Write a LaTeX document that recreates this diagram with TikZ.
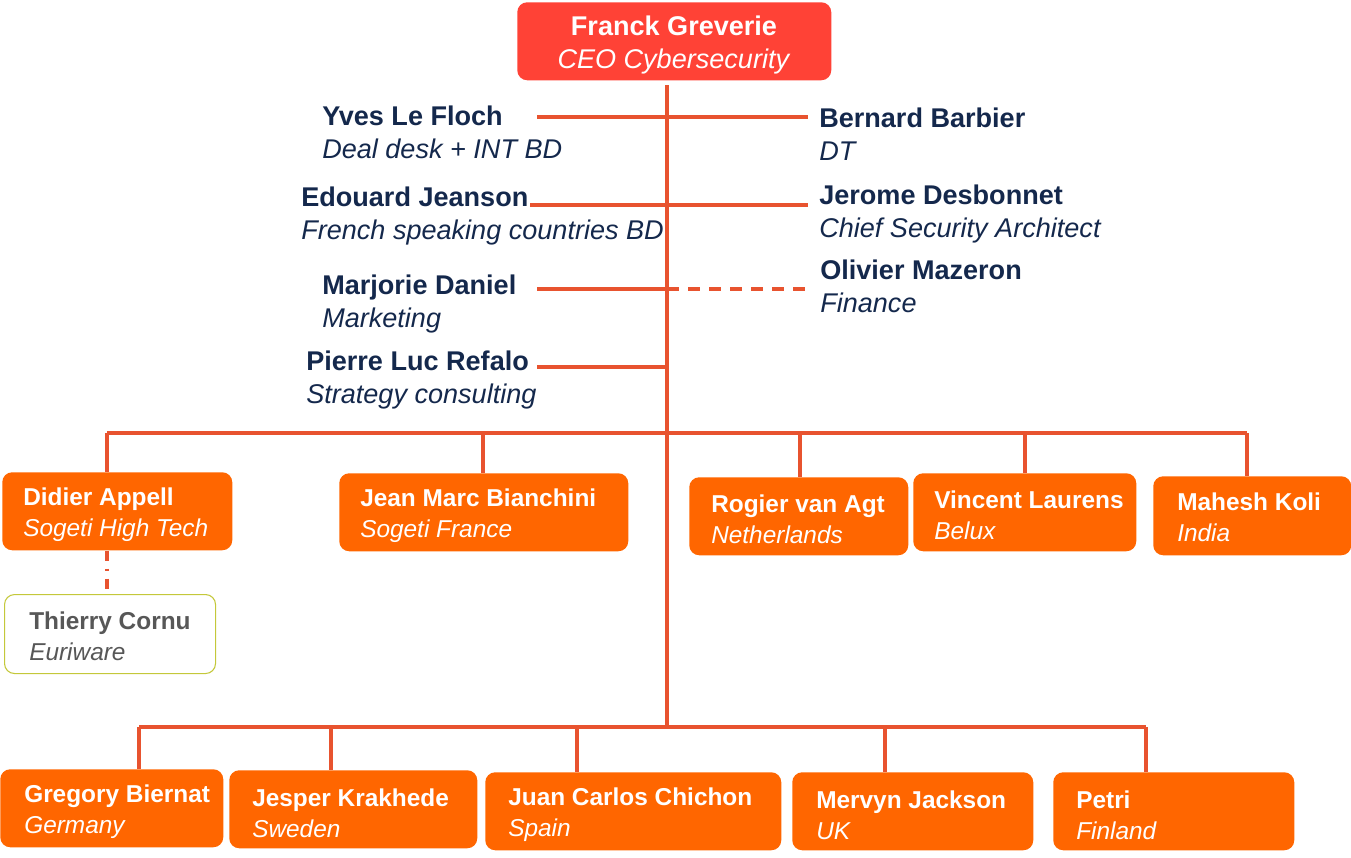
\documentclass[tikz,border=0pt]{standalone}
\usepackage{fontspec}
\setmainfont{Liberation Sans}
\definecolor{ceored}{HTML}{FF4236}
\definecolor{boxorange}{HTML}{FF6600}
\definecolor{linkred}{HTML}{E8532F}
\definecolor{navy}{HTML}{14284C}
\definecolor{thgray}{HTML}{575757}
\definecolor{thborder}{HTML}{C4C83A}
\begin{document}
\begin{tikzpicture}[x=0.75pt,y=-0.75pt,
  link/.style={draw=linkred,line width=2.3pt},
  dlink/.style={link,dash pattern=on 9pt off 6.75pt},
  obox/.style 2 args={fill=boxorange,draw=none,rounded corners=7.5pt,anchor=north west,inner sep=0pt,minimum width=#1*0.75pt,minimum height=#2*0.75pt},
  wbox/.style 2 args={fill=white,draw=thborder,line width=0.8pt,rounded corners=7.5pt,anchor=north west,inner sep=0pt,minimum width=#1*0.75pt,minimum height=#2*0.75pt},
  otext/.style={anchor=west,inner sep=0pt,align=left,text=white,font=\fontsize{18.3}{23}\selectfont},
  stext/.style={anchor=west,inner sep=0pt,align=left,text=navy,font=\fontsize{20.3}{24.75}\selectfont}]
\useasboundingbox (0,0) rectangle (1351,857);

% CEO
\node[fill=ceored,rounded corners=7.5pt,anchor=north west,inner sep=0pt,minimum width=314*0.75pt,minimum height=78*0.75pt] (ceo) at (517,2) {};
\node[inner sep=0pt,align=center,text=white,font=\fontsize{20.3}{24.75}\selectfont] (ceot) at (674,45) {\textbf{Franck Greverie}\\\textit{CEO Cybersecurity}};

% trunk and staff lines
\coordinate (trtop) at (667,85);
\coordinate (trbot) at (667,722);
\draw[link] (trtop) -- (trbot);
\coordinate (yl) at (537,117); \coordinate (yr) at (808,117);
\coordinate (el) at (530,205); \coordinate (er) at (808,205);
\coordinate (ml) at (537,289); \coordinate (mm) at (667,289); \coordinate (mr) at (808,289);
\coordinate (pl) at (537,367); \coordinate (pm) at (667,367);
\draw[link] (yl) -- (yr);
\draw[link] (el) -- (er);
\draw[link] (ml) -- (mm);
\draw[dlink] (mm) -- (mr);
\draw[link] (pl) -- (pm);

% staff texts
\node[stext] (yves) at (322,132) {\textbf{Yves Le Floch}\\\textit{Deal desk + INT BD}};
\node[stext] (bernard) at (819,134) {\textbf{Bernard Barbier}\\\textit{DT}};
\node[stext] (edouard) at (301,216) {\textbf{Edouard Jeanson}\\\textit{French speaking countries BD}};
\node[stext] (jerome) at (819,214) {\textbf{Jerome Desbonnet}\\\textit{Chief Security Architect}};
\node[stext] (marjorie) at (322,304) {\textbf{Marjorie Daniel}\\\textit{Marketing}};
\node[stext] (olivier) at (820,286) {\textbf{Olivier Mazeron}\\\textit{Finance}};
\node[stext] (pierre) at (306,380) {\textbf{Pierre Luc Refalo}\\\textit{Strategy consulting}};

% middle row boxes
\node[obox={230}{78}] (didier) at (2,472) {};
\node[otext] (didiert) at (23,515) {\textbf{Didier Appell}\\\textit{Sogeti High Tech}};
\node[obox={289}{78}] (jeanmarc) at (339,473) {};
\node[otext] (jeanmarct) at (360,516) {\textbf{Jean Marc Bianchini}\\\textit{Sogeti France}};
\node[obox={219}{78}] (rogier) at (689,477) {};
\node[otext] (rogiert) at (711,519) {\textbf{Rogier van Agt}\\\textit{Netherlands}};
\node[obox={223}{78}] (vincent) at (913,473) {};
\node[otext] (vincentt) at (934,515) {\textbf{Vincent Laurens}\\\textit{Belux}};
\node[obox={198}{79}] (mahesh) at (1153,476) {};
\node[otext] (mahesht) at (1177,517) {\textbf{Mahesh Koli}\\\textit{India}};

\node[wbox={211}{79}] (thierry) at (4,594) {};
\node[otext,text=thgray] (thierryt) at (29,636) {\textbf{Thierry Cornu}\\\textit{Euriware}};

% middle bus
\coordinate (m1) at (107,433); \coordinate (m2) at (483,433); \coordinate (mc) at (667,433);
\coordinate (m3) at (800,433); \coordinate (m4) at (1025,433); \coordinate (m5) at (1247,433);
\draw[link] (m1) -- (m5);
\draw[link] (m1) -- (m1 |- didier.north);
\draw[link] (m2) -- (m2 |- jeanmarc.north);
\draw[link] (m3) -- (m3 |- rogier.north);
\draw[link] (m4) -- (m4 |- vincent.north);
\draw[link] (m5) -- (m5 |- mahesh.north);
\draw[link,dash pattern=on 7.5pt off 6pt on 1.5pt off 6pt] (m1 |- didier.south) -- (m1 |- thierry.north);

% bottom row boxes
\node[obox={223}{78}] (gregory) at (0,769) {};
\node[otext] (gregoryt) at (24,812) {\textbf{Gregory Biernat}\\\textit{Germany}};
\node[obox={248}{78}] (jesper) at (229,770) {};
\node[otext] (jespert) at (252,813) {\textbf{Jesper Krakhede}\\\textit{Sweden}};
\node[obox={296}{78}] (juan) at (485,772) {};
\node[otext] (juant) at (508,815) {\textbf{Juan Carlos Chichon}\\\textit{Spain}};
\node[obox={241}{78}] (mervyn) at (792,772) {};
\node[otext] (mervynt) at (816,815) {\textbf{Mervyn Jackson}\\\textit{UK}};
\node[obox={241}{78}] (petri) at (1053,772) {};
\node[otext] (petrit) at (1076,815) {\textbf{Petri}\\\textit{Finland}};

% bottom bus
\coordinate (b1) at (139,727); \coordinate (b2) at (331,727); \coordinate (b3) at (577,727);
\coordinate (b4) at (885,727); \coordinate (b5) at (1146,727);
\draw[link] (b1) -- (b5);
\draw[link] (trbot) -- (667,727);
\draw[link] (b1) -- (b1 |- gregory.north);
\draw[link] (b2) -- (b2 |- jesper.north);
\draw[link] (b3) -- (b3 |- juan.north);
\draw[link] (b4) -- (b4 |- mervyn.north);
\draw[link] (b5) -- (b5 |- petri.north);
\end{tikzpicture}
\end{document}
